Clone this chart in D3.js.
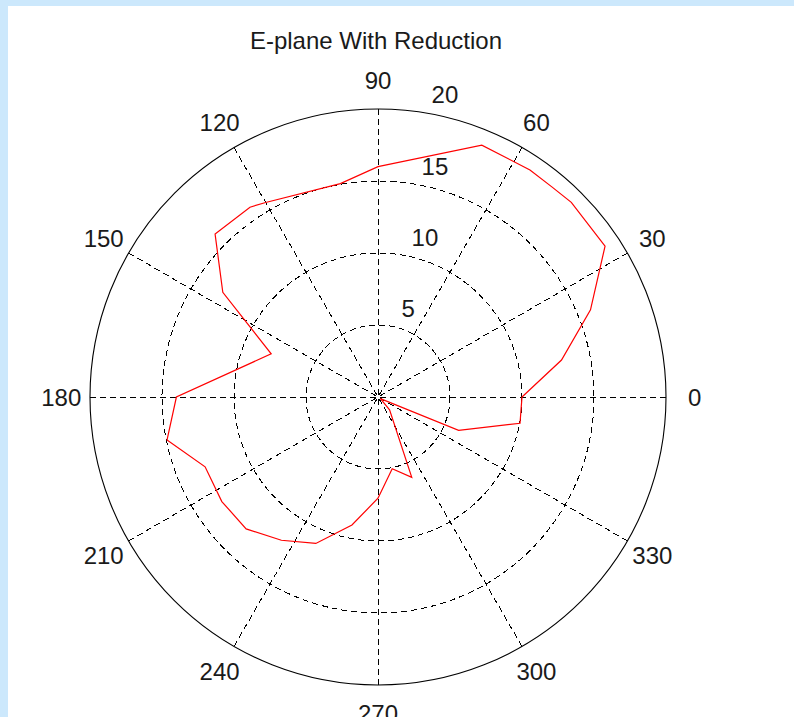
<!DOCTYPE html>
<html>
<head>
<meta charset="utf-8">
<script src="https://cdn.jsdelivr.net/npm/d3@7"></script>
<style>
  body { margin: 0; background: #fff; }
  svg { display: block; }
</style>
</head>
<body>
<svg id="chart" width="794" height="717"></svg>
<script>
// polar pattern, angle in degrees (ccw from 0 = east), radius in plot units
const chartTitle = "E-plane With Reduction";
const thetaDeg = [0, 11.4, 22.3, 33.6, 45.2, 50.4, 56.2, 67.6, 90, 100, 120, 124, 135, 146, 158,
    180, 191.5, 202, 213.8, 225, 236, 247, 258.5, 270, 281.2, 292.8, 312, 326, 337.5, 349.5];
const gainValues = [10.0, 13.0, 15.95, 18.93, 19.05, 18.94, 18.97, 18.92, 16.0, 15.05, 15.6, 15.9, 16.0, 13.0, 8.0,
    14.0, 14.95, 12.95, 13.05, 12.95, 12.0, 11.05, 9.07, 7.03, 5.08, 6.05, 1.2, 0.2, 6.06, 10.03];
const radialTicks = [5, 10, 15, 20];
const spokeAngles = [0, 30, 60, 90, 120, 150];
const angleTicks = [0, 30, 60, 90, 120, 150, 180, 210, 240, 270, 300, 330];

const svg = d3.select("#chart");
const cx = 378, cy = 397, R = 288;
const font = "'Liberation Sans', Arial, sans-serif";

// light blue window frame (top + left edge)
svg.append("rect").attr("x", 0).attr("y", 0).attr("width", 794).attr("height", 6).attr("fill", "#cce8fc");
svg.append("rect").attr("x", 0).attr("y", 0).attr("width", 8).attr("height", 717).attr("fill", "#cce8fc");

const r = d3.scaleLinear().domain([0, 20]).range([0, R]);
const rad = d => d * Math.PI / 180;

const g = svg.append("g").attr("transform", `translate(${cx},${cy})`);

// dashed rings
g.selectAll("circle.ring")
    .data(radialTicks.slice(0, -1))
    .enter().append("circle")
    .attr("class", "ring")
    .attr("r", d => r(d))
    .attr("fill", "none")
    .attr("stroke", "#000")
    .attr("stroke-width", 1)
    .attr("stroke-dasharray", "6,4")
    .attr("shape-rendering", "crispEdges");

// spokes through the centre
g.selectAll("line.spoke")
    .data(spokeAngles)
    .enter().append("line")
    .attr("class", "spoke")
    .attr("x1", d => -r(20) * Math.cos(rad(d)))
    .attr("y1", d => r(20) * Math.sin(rad(d)))
    .attr("x2", d => r(20) * Math.cos(rad(d)))
    .attr("y2", d => -r(20) * Math.sin(rad(d)))
    .attr("stroke", "#000")
    .attr("stroke-width", 1)
    .attr("stroke-dasharray", "6,4")
    .attr("shape-rendering", "crispEdges");

// outer solid circle
g.append("circle")
    .attr("r", r(20))
    .attr("fill", "none")
    .attr("stroke", "#000")
    .attr("stroke-width", 1.1);

// radial tick labels at 82 deg (matlab style)
g.selectAll("text.rlab")
    .data(radialTicks)
    .enter().append("text")
    .attr("class", "rlab")
    .attr("x", d => r(d + 0.25) * Math.cos(rad(82)) + 13)
    .attr("y", d => -r(d + 0.25) * Math.sin(rad(82)) - 5)
    .attr("font-family", font)
    .attr("font-size", 24)
    .attr("fill", "#1a1a1a")
    .text(d => d);

// angle labels
g.selectAll("text.alab")
    .data(angleTicks)
    .enter().append("text")
    .attr("class", "alab")
    .attr("x", d => r(22) * Math.cos(rad(d)))
    .attr("y", d => -r(22) * Math.sin(rad(d)))
    .attr("dy", "0.36em")
    .attr("text-anchor", "middle")
    .attr("font-family", font)
    .attr("font-size", 24)
    .attr("fill", "#1a1a1a")
    .text(d => d);

// pattern trace
const pts = thetaDeg.map((t, i) => ({ a: t, v: gainValues[i] }));
const line = d3.lineRadial()
    .angle(d => rad(90 - d.a))
    .radius(d => r(d.v))
    .curve(d3.curveLinearClosed);

g.append("path")
    .datum(pts)
    .attr("d", line)
    .attr("fill", "none")
    .attr("stroke", "#ff0000")
    .attr("stroke-width", 1.2);

// title
svg.append("text")
    .attr("x", 376)
    .attr("y", 49)
    .attr("text-anchor", "middle")
    .attr("font-family", font)
    .attr("font-size", 24)
    .attr("fill", "#1a1a1a")
    .text(chartTitle);
</script>
</body>
</html>
